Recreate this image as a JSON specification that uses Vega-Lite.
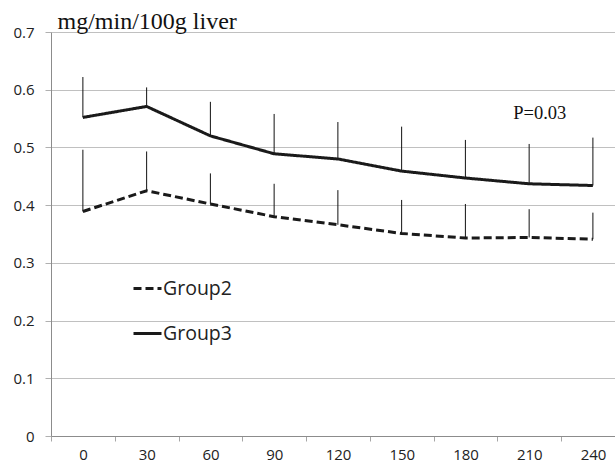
{
  "$schema": "https://vega.github.io/schema/vega-lite/v6.json",
  "autosize": {"type": "none"},
  "padding": {"left": 51, "top": 32, "right": 0, "bottom": 32},
  "width": 564,
  "height": 404,
  "background": "white",
  "config": {
    "view": {"stroke": null},
    "axis": {"labelFont": "Open Sans", "labelFontSize": 15, "labelColor": "#222222"},
    "legend": {
      "orient": "none",
      "legendX": 81,
      "legendY": 241,
      "symbolType": "stroke",
      "symbolSize": 784,
      "symbolStrokeWidth": 3,
      "symbolStrokeColor": "#1a1a1a",
      "labelFont": "Open Sans",
      "labelFontSize": 19.5,
      "labelColor": "#222222",
      "labelOffset": 0,
      "rowPadding": 20
    }
  },
  "datasets": {
    "series": [
      {"time": 0, "group": "Group3", "value": 0.552, "upper": 0.622},
      {"time": 30, "group": "Group3", "value": 0.571, "upper": 0.604},
      {"time": 60, "group": "Group3", "value": 0.520, "upper": 0.579},
      {"time": 90, "group": "Group3", "value": 0.489, "upper": 0.558},
      {"time": 120, "group": "Group3", "value": 0.480, "upper": 0.544},
      {"time": 150, "group": "Group3", "value": 0.459, "upper": 0.536},
      {"time": 180, "group": "Group3", "value": 0.447, "upper": 0.513},
      {"time": 210, "group": "Group3", "value": 0.437, "upper": 0.506},
      {"time": 240, "group": "Group3", "value": 0.434, "upper": 0.517},
      {"time": 0, "group": "Group2", "value": 0.389, "upper": 0.496},
      {"time": 30, "group": "Group2", "value": 0.425, "upper": 0.493},
      {"time": 60, "group": "Group2", "value": 0.402, "upper": 0.455},
      {"time": 90, "group": "Group2", "value": 0.380, "upper": 0.437},
      {"time": 120, "group": "Group2", "value": 0.366, "upper": 0.426},
      {"time": 150, "group": "Group2", "value": 0.351, "upper": 0.409},
      {"time": 180, "group": "Group2", "value": 0.343, "upper": 0.402},
      {"time": 210, "group": "Group2", "value": 0.344, "upper": 0.393},
      {"time": 240, "group": "Group2", "value": 0.341, "upper": 0.387}
    ],
    "note": [{"label": "P=0.03"}]
  },
  "layer": [
    {
      "data": {"name": "series"},
      "mark": {"type": "rule", "stroke": "#111111", "strokeWidth": 1},
      "encoding": {
        "x": {
          "field": "time",
          "type": "quantitative",
          "scale": {"domain": [-15, 250.4], "nice": false, "zero": false},
          "axis": {
            "title": null,
            "values": [-15, 15, 45, 75, 105, 135, 165, 195, 225],
            "labelExpr": "'' + (datum.value + 15)",
            "labelOffset": 32,
            "labelAlign": "center",
            "labelPadding": 6,
            "grid": false,
            "tickSize": 5,
            "tickColor": "#a6a6a6",
            "domainColor": "#8c8c8c",
            "labelFlush": false,
            "labelOverlap": false
          }
        },
        "y": {
          "field": "value",
          "type": "quantitative",
          "scale": {"domain": [0, 0.7], "nice": false},
          "axis": {
            "title": "mg/min/100g liver",
            "titleAngle": 0,
            "titleAlign": "left",
            "titleBaseline": "alphabetic",
            "titleX": 6,
            "titleY": -4,
            "titleFont": "Liberation Serif",
            "titleFontSize": 24,
            "titleFontWeight": "normal",
            "titleColor": "#111111",
            "values": [0, 0.1, 0.2, 0.3, 0.4, 0.5, 0.6, 0.7],
            "format": ".1~f",
            "grid": true,
            "gridColor": "#c0c0c0",
            "tickSize": 6,
            "tickColor": "#b0b0b0",
            "domainColor": "#8c8c8c",
            "labelPadding": 11
          }
        },
        "y2": {"field": "upper"}
      }
    },
    {
      "data": {"name": "series"},
      "mark": {"type": "line", "stroke": "#1a1a1a", "strokeWidth": 3},
      "encoding": {
        "x": {"field": "time", "type": "quantitative"},
        "y": {"field": "value", "type": "quantitative"},
        "strokeDash": {
          "field": "group",
          "type": "nominal",
          "scale": {"domain": ["Group2", "Group3"], "range": [[8, 4], [1, 0]]},
          "legend": {"title": null}
        }
      }
    },
    {
      "data": {"name": "note"},
      "mark": {"type": "text", "font": "Liberation Serif", "fontSize": 18.5, "fill": "#111111", "align": "center", "baseline": "alphabetic"},
      "encoding": {
        "text": {"field": "label", "type": "nominal"},
        "x": {"datum": 215, "type": "quantitative"},
        "y": {"datum": 0.549, "type": "quantitative"}
      }
    }
  ]
}
